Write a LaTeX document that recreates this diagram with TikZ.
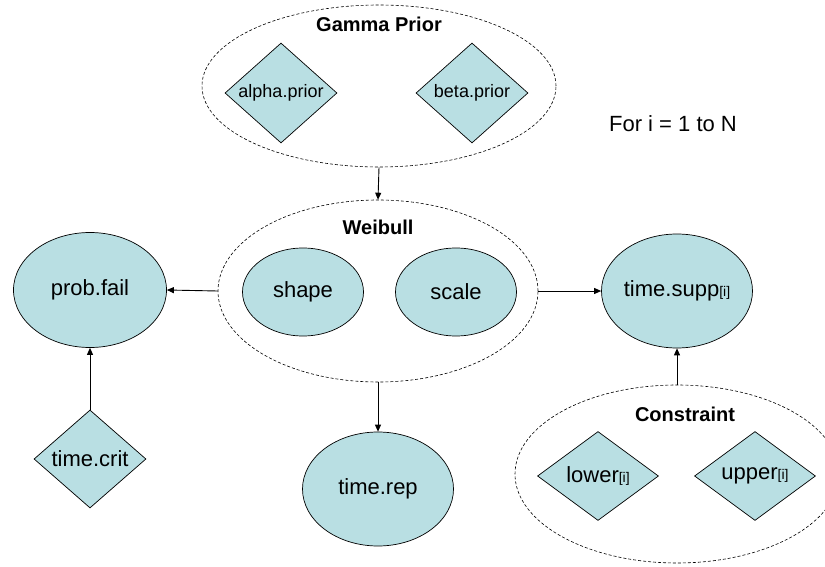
\documentclass[tikz,border=0pt]{standalone}
\usepackage{fontspec}
\setmainfont{Liberation Sans}
\usetikzlibrary{arrows.meta,shapes.geometric}
\definecolor{bnFill}{HTML}{B9DFE3}
\definecolor{bnInk}{HTML}{000000}
\tikzset{
  bnvar/.style={
    ellipse,
    draw=bnInk,
    fill=bnFill,
    line width=0.7pt,
    inner sep=0pt,
    font=\fontsize{22}{24}\selectfont
  },
  bnconst/.style={
    diamond,
    aspect=1.35,
    draw=bnInk,
    fill=bnFill,
    line width=0.7pt,
    inner sep=0pt,
    font=\fontsize{#1}{#1}\selectfont
  },
  bnplate/.style={
    ellipse,
    draw=bnInk,
    dash pattern=on 3pt off 2pt,
    line width=0.6pt,
    inner sep=0pt
  },
  bnplabel/.style={font=\fontsize{20}{22}\selectfont\bfseries, text=bnInk},
  bnarrow/.style={-{Triangle[length=7pt,width=6pt]}, line width=0.9pt, draw=bnInk}
}
\newcommand{\bnidx}{{\fontsize{14}{14}\selectfont[i]}}

\begin{document}
\begin{tikzpicture}[x=1pt,y=-1pt]
  \useasboundingbox (0,0) rectangle (825,567);
  \clip (0,0) rectangle (825,567);

  % plates
  \node[bnplate, minimum width=354pt, minimum height=162pt] (gamma) at (379,86) {};
  \node[bnplabel] at (gamma.north) [yshift=-20pt] {Gamma Prior};
  \node[bnplate, minimum width=320pt, minimum height=182pt] (weibull) at (378,291) {};
  \node[bnplabel] at (weibull.north) [yshift=-28pt] {Weibull};
  \node[bnplate, minimum width=324pt, minimum height=178pt] (constraint) at (677,474) {};
  \node[bnplabel] at (constraint.north) [yshift=-30pt, xshift=8pt] {Constraint};

  % constants
  \node[bnconst=18, minimum width=112pt, minimum height=100pt] (alphaprior) at (281,93) {alpha.prior};
  \node[bnconst=18, minimum width=112pt, minimum height=100pt] (betaprior) at (472,93) {beta.prior};
  \node[bnconst=22, minimum width=112pt, minimum height=98pt] (timecrit) at (90,459) {time.crit};
  \node[bnconst=22, minimum width=121pt, minimum height=89pt] (lower) at (598,476) {lower\bnidx};
  \node[bnconst=22, minimum width=121pt, minimum height=89pt] (upper) at (755,476) {upper\bnidx};

  % variables
  \node[bnvar, minimum width=121pt, minimum height=88pt] (shape) at (303,292) {shape};
  \node[bnvar, minimum width=121pt, minimum height=88pt] (scale) at (456,292) {scale};
  \node[bnvar, minimum width=153pt, minimum height=115pt] (probfail) at (90,290) {prob.fail};
  \node[bnvar, minimum width=151pt, minimum height=114pt] (timesupp) at (677,291) {time.supp\bnidx};
  \node[bnvar, minimum width=151pt, minimum height=114pt] (timerep) at (378,489) {time.rep};

  \node[font=\fontsize{22}{24}\selectfont, anchor=base] (loop) at (673,132) {For i = 1 to N};

  \draw[bnarrow] (gamma.south) -- (weibull.north);
  \draw[bnarrow] (weibull.west) -- (probfail.east);
  \draw[bnarrow] (weibull.east) -- (timesupp.west);
  \draw[bnarrow] (weibull.south) -- (timerep.north);
  \draw[bnarrow] (timecrit.north) -- (probfail.south);
  \draw[bnarrow] (constraint.north) -- (timesupp.south);
\end{tikzpicture}
\end{document}
